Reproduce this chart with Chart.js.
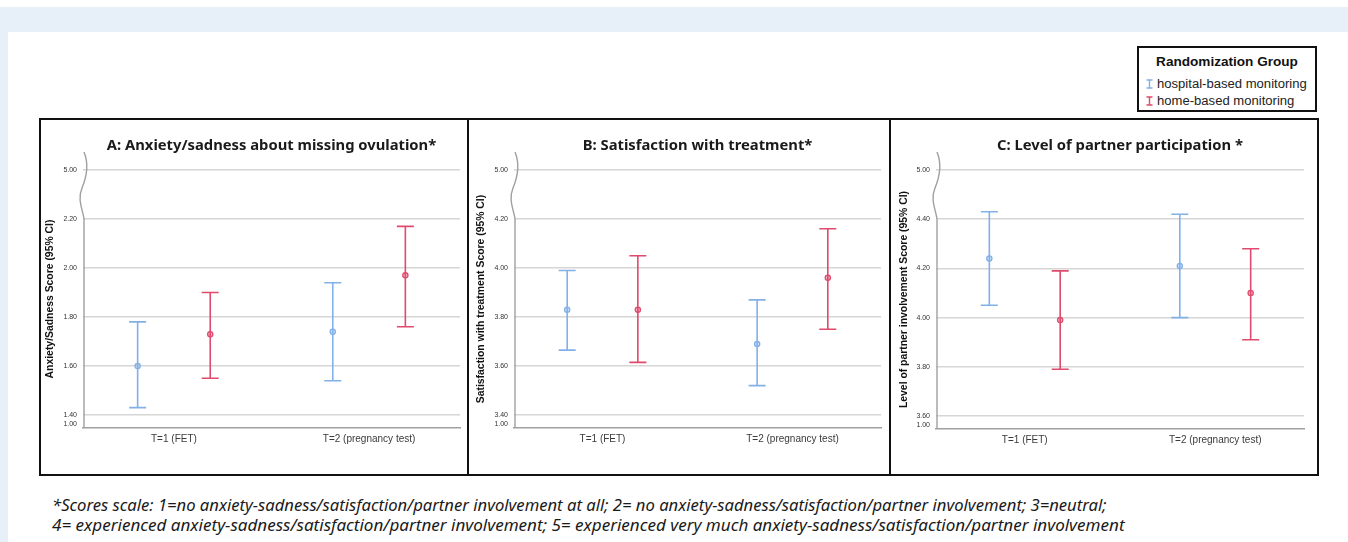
<!DOCTYPE html>
<html>
<head>
<meta charset="utf-8">
<script src="https://cdn.jsdelivr.net/npm/chart.js@4.4.1/dist/chart.umd.min.js"></script>
<style>
html, body { margin: 0; padding: 0; background: #fff; }
body { width: 1348px; height: 542px; position: relative; overflow: hidden; font-family: "Liberation Sans", Arial, sans-serif; }
.band { position: absolute; left: 0; top: 7px; width: 1348px; height: 25px; background: #e7eff9; }
.strip { position: absolute; left: 0; top: 7px; width: 8px; height: 535px; background: #e7eff9; }
.panel { position: absolute; top: 118px; height: 358px; border: 2px solid #111; box-sizing: border-box; }
canvas.c { position: absolute; top: 120px; height: 354px; }
.legend { position: absolute; left: 1137px; top: 46px; width: 180px; height: 66px; border: 2px solid #111; box-sizing: border-box; background: #fff; }
.legend .ttl { position: absolute; left: 0; width: 176px; top: 6px; text-align: center; font-weight: bold; color: #111; white-space: nowrap; }
.legend .item { position: absolute; left: 7px; white-space: nowrap; color: #222; }
.legend svg { vertical-align: -1px; margin-right: 4px; }
.note { position: absolute; left: 52px; font-family: "Noto Sans", sans-serif; font-style: italic; color: #1a1a1a; white-space: nowrap; transform-origin: 0 50%; }
</style>
</head>
<body>
<div class="band"></div>
<div class="strip"></div>

<div class="panel" style="left:39px;width:430px"></div>
<div class="panel" style="left:467px;width:424px"></div>
<div class="panel" style="left:889px;width:430px"></div>

<canvas class="c" id="chartA" style="left:41px;width:426px" width="426" height="354"></canvas>
<canvas class="c" id="chartB" style="left:469px;width:420px" width="420" height="354"></canvas>
<canvas class="c" id="chartC" style="left:891px;width:426px" width="426" height="354"></canvas>

<div class="legend">
  <div class="ttl" id="legTitle">Randomization Group</div>
  <div class="item" id="leg0" style="top:28px"></div>
  <div class="item" id="leg1" style="top:45px"></div>
</div>

<div class="note" id="note1" style="top:493px">*Scores scale: 1=no anxiety-sadness/satisfaction/partner involvement at all; 2= no anxiety-sadness/satisfaction/partner involvement; 3=neutral;</div>
<div class="note" id="note2" style="top:513px">4= experienced anxiety-sadness/satisfaction/partner involvement; 5= experienced very much anxiety-sadness/satisfaction/partner involvement</div>

<script>
// --- data ---
const timepoints = ['T=1 (FET)', 'T=2 (pregnancy test)'];
const groups = ['hospital-based monitoring', 'home-based monitoring'];
const groupColors = ['#82b1e8', '#df4a6e'];

// A: anxiety / sadness
const anxietyTicks = [1.40, 1.60, 1.80, 2.00, 2.20];
const anxietyHospitalMean = [1.60, 1.74];
const anxietyHospitalLow = [1.43, 1.54];
const anxietyHospitalHigh = [1.78, 1.94];
const anxietyHomeMean = [1.73, 1.97];
const anxietyHomeLow = [1.55, 1.76];
const anxietyHomeHigh = [1.90, 2.17];

// B: satisfaction
const satisfactionTicks = [3.40, 3.60, 3.80, 4.00, 4.20];
const satisfactionHospitalMean = [3.83, 3.69];
const satisfactionHospitalLow = [3.665, 3.52];
const satisfactionHospitalHigh = [3.99, 3.87];
const satisfactionHomeMean = [3.83, 3.96];
const satisfactionHomeLow = [3.615, 3.75];
const satisfactionHomeHigh = [4.05, 4.16];

// C: partner participation
const partnerTicks = [3.60, 3.80, 4.00, 4.20, 4.40];
const partnerHospitalMean = [4.24, 4.21];
const partnerHospitalLow = [4.05, 4.00];
const partnerHospitalHigh = [4.43, 4.42];
const partnerHomeMean = [3.99, 4.10];
const partnerHomeLow = [3.79, 3.91];
const partnerHomeHigh = [4.19, 4.28];

// broken axis labels
const breakTopLabel = '5.00';
const axisBottomLabel = '1.00';

const panelTitles = [
  'A: Anxiety/sadness about missing ovulation*',
  'B: Satisfaction with treatment*',
  'C: Level of partner participation *'
];
const yTitles = [
  'Anxiety/Sadness Score (95% CI)',
  'Satisfaction with treatment Score (95% CI)',
  'Level of partner involvement Score (95% CI)'
];

// --- font fitting helpers ---
const meas = document.createElement('canvas').getContext('2d');
function textW(text, weight, family) {
  meas.font = weight + ' 100px ' + family;
  return meas.measureText(text).width / 100;
}
function fitSize(texts, targets, weight, family) {
  let a = 0, b = 0;
  texts.forEach((t, i) => { a += targets[i]; b += textW(t, weight, family); });
  return a / b;
}

const titleFamily = '"Noto Sans", sans-serif';
const titleSize = fitSize(panelTitles, [326, 229, 251], 'bold', titleFamily);
const axisFamily = '"Liberation Sans", Arial, sans-serif';
const yTitleSize = fitSize(yTitles, [157, 209, 219], 'bold', axisFamily);

// --- plugins ---
const errorBarPlugin = {
  id: 'errorBars',
  beforeDatasetsDraw(chart) {
    const ctx = chart.ctx, y = chart.scales.y;
    chart.data.datasets.forEach((ds, i) => {
      const meta = chart.getDatasetMeta(i);
      ctx.save();
      ctx.strokeStyle = ds.borderColor;
      ctx.lineWidth = 1.6;
      meta.data.forEach((pt, j) => {
        const yl = y.getPixelForValue(ds.low[j]);
        const yh = y.getPixelForValue(ds.high[j]);
        ctx.beginPath();
        ctx.moveTo(pt.x, yl); ctx.lineTo(pt.x, yh);
        ctx.moveTo(pt.x - 8.5, yl); ctx.lineTo(pt.x + 8.5, yl);
        ctx.moveTo(pt.x - 8.5, yh); ctx.lineTo(pt.x + 8.5, yh);
        ctx.stroke();
      });
      ctx.restore();
    });
  }
};

const brokenAxisPlugin = {
  id: 'brokenAxis',
  afterDraw(chart, args, opts) {
    const { ctx, chartArea } = chart;
    const y = chart.scales.y;
    const ax = chartArea.left + 1;
    const yBreak = y.getPixelForValue(opts.lastTick);
    const yTop = chartArea.top;
    ctx.save();
    ctx.strokeStyle = '#a0a0a0';
    ctx.lineWidth = 1.4;
    ctx.beginPath();
    ctx.moveTo(ax, chartArea.bottom);
    ctx.lineTo(ax, yBreak);
    ctx.stroke();
    ctx.beginPath();
    ctx.moveTo(ax, yTop - 18);
    ctx.bezierCurveTo(ax + 5, yTop - 6, ax + 3, yTop + 6, ax - 2, yTop + 18);
    ctx.bezierCurveTo(ax - 7, yTop + 30, ax - 1, yTop + 40, ax, yBreak);
    ctx.stroke();
    ctx.restore();
  }
};

function makePanel(id, p) {
  const ticks = p.ticks;
  const first = ticks[0], last = ticks[ticks.length - 1];
  const topValue = +(last + 0.2).toFixed(2);
  const bottomValue = first - 0.037;
  const offset = 0.186;
  const series = [
    { mean: p.hospMean, low: p.hospLow, high: p.hospHigh, dx: -offset },
    { mean: p.homeMean, low: p.homeLow, high: p.homeHigh, dx: offset }
  ];
  return new Chart(document.getElementById(id), {
    type: 'scatter',
    data: {
      datasets: series.map((s, g) => ({
        label: groups[g],
        data: s.mean.map((m, i) => ({ x: i + s.dx, y: m })),
        low: s.low,
        high: s.high,
        borderColor: groupColors[g],
        backgroundColor: groupColors[g] + '66',
        pointRadius: 2.6,
        pointBorderWidth: 1.3,
        pointHoverRadius: 2.6
      }))
    },
    options: {
      responsive: false,
      animation: false,
      events: [],
      layout: { padding: { left: 0, right: p.padRight, top: 0, bottom: 0 } },
      plugins: {
        legend: { display: false },
        tooltip: { enabled: false },
        title: {
          display: true,
          text: p.title,
          fullSize: false,
          color: '#1a1a1a',
          font: { family: titleFamily, size: titleSize, weight: 'bold', lineHeight: 1.2 },
          padding: { top: 26 - titleSize * 0.6, bottom: 50 - 26 - titleSize * 0.6 }
        },
        brokenAxis: { lastTick: last }
      },
      scales: {
        x: {
          type: 'linear',
          min: -0.466,
          max: 1.466,
          afterBuildTicks: s => { s.ticks = timepoints.map((t, i) => ({ value: i })); },
          afterFit: s => { s.height = p.xHeight; },
          ticks: {
            callback: v => timepoints[v],
            color: '#3a3a3a',
            font: { family: axisFamily, size: 10 },
            padding: 5,
            maxRotation: 0,
            autoSkip: false
          },
          grid: { display: false, drawTicks: false },
          border: { display: true, color: '#a0a0a0', width: 1.5 }
        },
        y: {
          type: 'linear',
          min: first - 0.053,
          max: topValue,
          afterBuildTicks: s => {
            s.ticks = [bottomValue].concat(ticks, [topValue]).map(v => ({ value: v }));
          },
          afterFit: s => { s.width = p.yWidth; },
          ticks: {
            autoSkip: false,
            padding: 6,
            color: '#333',
            font: { family: axisFamily, size: 7 },
            callback: v => v === topValue ? breakTopLabel : (v === bottomValue ? axisBottomLabel : v.toFixed(2))
          },
          grid: {
            drawTicks: false,
            lineWidth: 1.5,
            color: c => (c.tick && c.tick.value === bottomValue) ? 'rgba(0,0,0,0)' : '#d6d6d6'
          },
          border: { display: false },
          title: {
            display: true,
            text: p.yTitle,
            color: '#111',
            font: { family: axisFamily, size: yTitleSize, weight: 'bold', lineHeight: 1.2 },
            padding: { top: p.yTitleX - yTitleSize * 0.6, bottom: 0 }
          }
        }
      }
    },
    plugins: [errorBarPlugin, brokenAxisPlugin]
  });
}

makePanel('chartA', {
  ticks: anxietyTicks, title: panelTitles[0], yTitle: yTitles[0],
  hospMean: anxietyHospitalMean, hospLow: anxietyHospitalLow, hospHigh: anxietyHospitalHigh,
  homeMean: anxietyHomeMean, homeLow: anxietyHomeLow, homeHigh: anxietyHomeHigh,
  yWidth: 42, padRight: 7, xHeight: 46, yTitleX: 9.5
});
makePanel('chartB', {
  ticks: satisfactionTicks, title: panelTitles[1], yTitle: yTitles[1],
  hospMean: satisfactionHospitalMean, hospLow: satisfactionHospitalLow, hospHigh: satisfactionHospitalHigh,
  homeMean: satisfactionHomeMean, homeLow: satisfactionHomeLow, homeHigh: satisfactionHomeHigh,
  yWidth: 45, padRight: 8, xHeight: 46, yTitleX: 12
});
makePanel('chartC', {
  ticks: partnerTicks, title: panelTitles[2], yTitle: yTitles[2],
  hospMean: partnerHospitalMean, hospLow: partnerHospitalLow, hospHigh: partnerHospitalHigh,
  homeMean: partnerHomeMean, homeLow: partnerHomeLow, homeHigh: partnerHomeHigh,
  yWidth: 45, padRight: 13, xHeight: 45, yTitleX: 13.5
});

// --- shared legend ---
const legTitle = document.getElementById('legTitle');
legTitle.style.fontSize = fitSize(['Randomization Group'], [142], 'bold', axisFamily) + 'px';
const legSize = fitSize([groups[0]], [150], 'normal', axisFamily);
groups.forEach((g, i) => {
  const el = document.getElementById('leg' + i);
  const c = groupColors[i];
  el.style.fontSize = legSize + 'px';
  el.innerHTML = '<svg width="7" height="10"><path d="M0.5 1H6.5M3.5 1V9M0.5 9H6.5" stroke="' + c +
    '" stroke-width="1.4" fill="none"/></svg>' + g;
});

// --- footnote: size from line 2, squeeze line 1 to its measured width ---
const n1 = document.getElementById('note1'), n2 = document.getElementById('note2');
const noteFamily = '"Noto Sans", sans-serif';
const noteSize = fitSize([n2.textContent], [1073], 'italic', noteFamily);
n1.style.fontSize = noteSize + 'px';
n2.style.fontSize = noteSize + 'px';
const w1 = textW(n1.textContent, 'italic', noteFamily) * noteSize;
n1.style.transform = 'scaleX(' + (1055 / w1) + ')';
</script>
</body>
</html>
